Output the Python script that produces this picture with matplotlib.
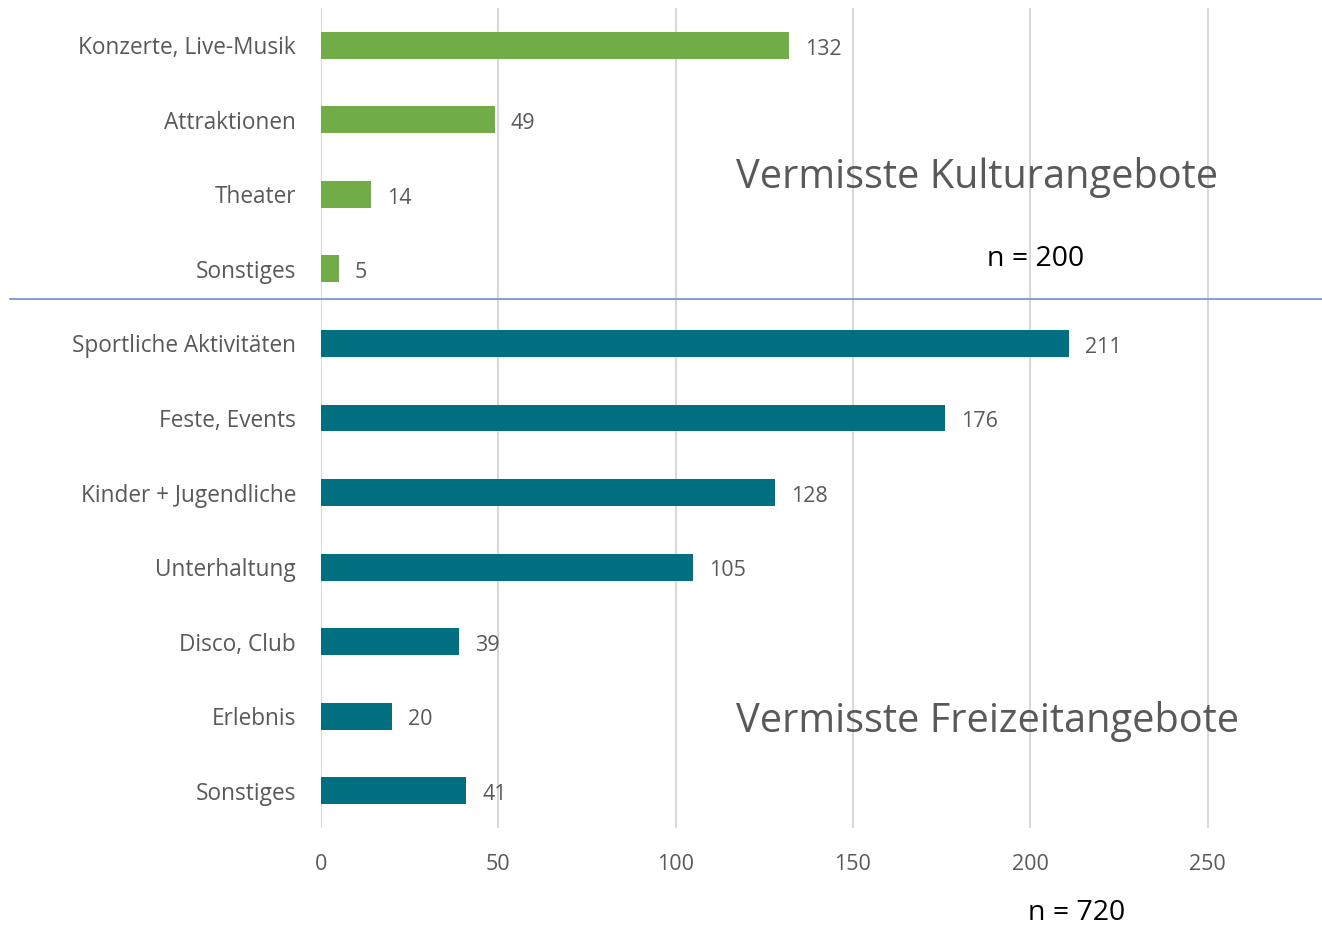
import matplotlib.pyplot as plt
from matplotlib.lines import Line2D

plt.rcParams['font.family'] = ['Open Sans', 'DejaVu Sans']

kultur_labels = ['Konzerte, Live-Musik', 'Attraktionen', 'Theater', 'Sonstiges']
kultur_values = [132, 49, 14, 5]
freizeit_labels = ['Sportliche Aktivitäten', 'Feste, Events', 'Kinder + Jugendliche',
                   'Unterhaltung', 'Disco, Club', 'Erlebnis', 'Sonstiges']
freizeit_values = [211, 176, 128, 105, 39, 20, 41]
x_ticks = [0, 50, 100, 150, 200, 250]

green = '#70AD47'
teal = '#006F7F'
grey = '#595959'

labels = kultur_labels + freizeit_labels
values = kultur_values + freizeit_values
colors = [green] * len(kultur_values) + [teal] * len(freizeit_values)
pos = list(range(len(values)))

fig = plt.figure(figsize=(13.22, 9.27), dpi=100)
ax = fig.add_axes([321 / 1322, 1 - 828 / 927, (1314 - 321) / 1322, (828 - 8) / 927])

ax.barh(pos, values, height=0.36, color=colors, zorder=3)
for p, v in zip(pos, values):
    ax.text(v + 4.5, p + 0.05, str(v), va='center', ha='left', fontsize=15.5, color=grey)

ax.set_ylim(len(values) - 0.5, -0.5)
ax.set_xlim(0, 280)
ax.set_yticks(pos)
ax.set_yticklabels(labels, fontsize=16.3, color=grey)
ax.set_xticks(x_ticks)
ax.set_xticklabels([str(t) for t in x_ticks], fontsize=15.5, color=grey)
ax.tick_params(axis='both', length=0)
ax.tick_params(axis='y', pad=18)
ax.tick_params(axis='x', pad=19)
ax.grid(axis='x', color='#D9D9D9', linewidth=1.5, zorder=0)
for s in ax.spines.values():
    s.set_visible(False)

# divider between the two groups
fig.add_artist(Line2D([10 / 1322, 1.0], [1 - 299 / 927] * 2, transform=fig.transFigure,
                      color='#6F8FCF', linewidth=1.2))

fig.text(736 / 1322, 1 - 178 / 927, 'Vermisste Kulturangebote', fontsize=28.6,
         color=grey, va='center', ha='left')
fig.text(987 / 1322, 1 - 259 / 927, 'n = 200', fontsize=20.5, color='black',
         va='center', ha='left')
fig.text(736 / 1322, 1 - 722 / 927, 'Vermisste Freizeitangebote', fontsize=28.6,
         color=grey, va='center', ha='left')
fig.text(1028 / 1322, 1 - 913.5 / 927, 'n = 720', fontsize=20.5, color='black',
         va='center', ha='left')

fig.savefig('out.png', dpi=100)
